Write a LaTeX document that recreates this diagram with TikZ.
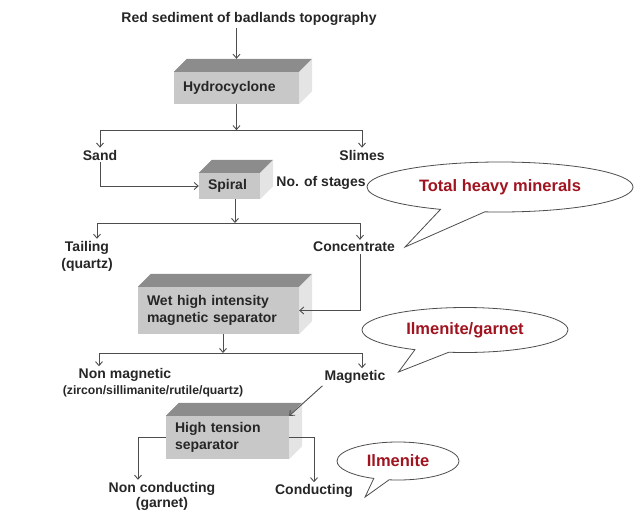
\documentclass[tikz,border=0pt]{standalone}
\usepackage{fontspec}
\setmainfont{Liberation Sans}
\usetikzlibrary{arrows.meta,shapes.callouts,positioning}
\definecolor{slabfront}{HTML}{C8C8C8}
\definecolor{slabtop}{HTML}{8C8C8C}
\definecolor{slabside}{HTML}{E4E4E4}
\definecolor{flowline}{HTML}{4D4D4D}
\definecolor{mineral}{HTML}{A01420}
\newcommand{\slabfaces}[1]{%
  \fill[slabtop] (#1.north west) -- ++(13pt,13pt) -- ([shift={(13pt,13pt)}]#1.north east) -- (#1.north east) -- cycle;
  \fill[slabside] (#1.north east) -- ++(13pt,13pt) -- ([shift={(13pt,13pt)}]#1.south east) -- (#1.south east) -- cycle;
}
\tikzset{
  lbl/.style={text=black!85, inner sep=2pt},
  slab/.style={fill=slabfront, text=black!85, inner xsep=9pt, inner ysep=0pt, align=left},
  arr/.style={draw=flowline, line width=0.9pt, -{Straight Barb[length=4pt,width=7pt]}},
  tag/.style={ellipse callout, draw=flowline, fill=white, line width=0.8pt, text=mineral,
    inner sep=0pt, callout pointer arc=20, font=\bfseries\fontsize{16.5}{19}\selectfont}
}
\begin{document}
\begin{tikzpicture}[x=1pt, y=-1pt, font=\bfseries\fontsize{14}{17}\selectfont]
\useasboundingbox (0,0) rectangle (637,512);
\node[lbl] (src) at (249,19) {Red sediment of badlands topography};
\node[slab, text width=107pt, minimum height=32pt] (hc) at (236.5,88) {Hydrocyclone};
\slabfaces{hc}
\draw[arr] (src.south -| hc.north) -- ([yshift=13pt]hc.north);
\coordinate (s1) at ([yshift=-26pt]hc.south);
\node[lbl] (sand) at (100,155) {Sand};
\node[lbl] (slimes) at (362,155) {Slimes};
\draw[arr] (hc.south) -- (s1);
\draw[arr] (s1) -| (sand);
\draw[arr] (s1) -| (slimes);

\node[slab, text width=43pt, minimum height=26pt] (spiral) at (229.5,186) {Spiral};
\slabfaces{spiral}
\node[lbl] (stages) at (321,183) {No. of stages};
\draw[arr] (sand) |- (spiral);
\coordinate (s2) at (235,223);
\node[lbl, align=center] (tail) at (87,256) {Tailing\\(quartz)};
\node[lbl] (conc) at (354,247) {Concentrate};
\draw[arr] (spiral.south -| s2) -- (s2);
\draw[arr] (s2) -| ([xshift=10pt]tail.north);
\draw[arr] (s2) -| ([xshift=6pt]conc.north);

\node[slab, text width=143pt, minimum height=47pt] (whims) at (218.5,310.5) {Wet high intensity\\magnetic separator};
\slabfaces{whims}
\draw[arr] ([xshift=6pt]conc.south) |- (whims.east);
\coordinate (s3) at (223,353);
\node[lbl] (nonmag) at (125,375) {Non magnetic};
\node[lbl, font=\bfseries\fontsize{12.2}{15}\selectfont] (nonmaglist) at (153,391) {(zircon/sillimanite/rutile/quartz)};
\node[lbl] (mag) at (355,377) {Magnetic};
\draw[arr] (whims.south -| s3) -- (s3);
\draw[arr] (s3) -| ([xshift=-26pt]nonmag.north);
\draw[arr] (s3) -| ([xshift=7pt]mag.north);

\node[slab, text width=105pt, minimum height=43pt] (hts) at (227.5,437.5) {High tension\\separator};
\slabfaces{hts}
\draw[arr] (mag.south west) -- (hts.north east);
\node[lbl, align=center, font=\bfseries\fontsize{14}{15}\selectfont] (nonc) at (162,496) {Non conducting\\(garnet)};
\node[lbl] (cond) at (314,491) {Conducting};
\draw[arr] (hts.west) -| ([xshift=-24pt]nonc.north);
\draw[arr] (hts.east) -| (cond.north);

\node[tag, minimum width=266pt, minimum height=50pt,
  callout absolute pointer={([xshift=8pt]conc.east)}] (thm) at (500,187) {Total heavy minerals};
\node[tag, minimum width=206pt, minimum height=45pt,
  callout absolute pointer={([shift={(11pt,5pt)}]mag.east)}] (ilmgar) at (465,330) {Ilmenite/garnet};
\node[tag, minimum width=122pt, minimum height=38pt, callout pointer arc=15,
  callout absolute pointer={([shift={(10pt,-6pt)}]cond.east)}] (ilm) at (398,461) {Ilmenite};
\end{tikzpicture}
\end{document}
